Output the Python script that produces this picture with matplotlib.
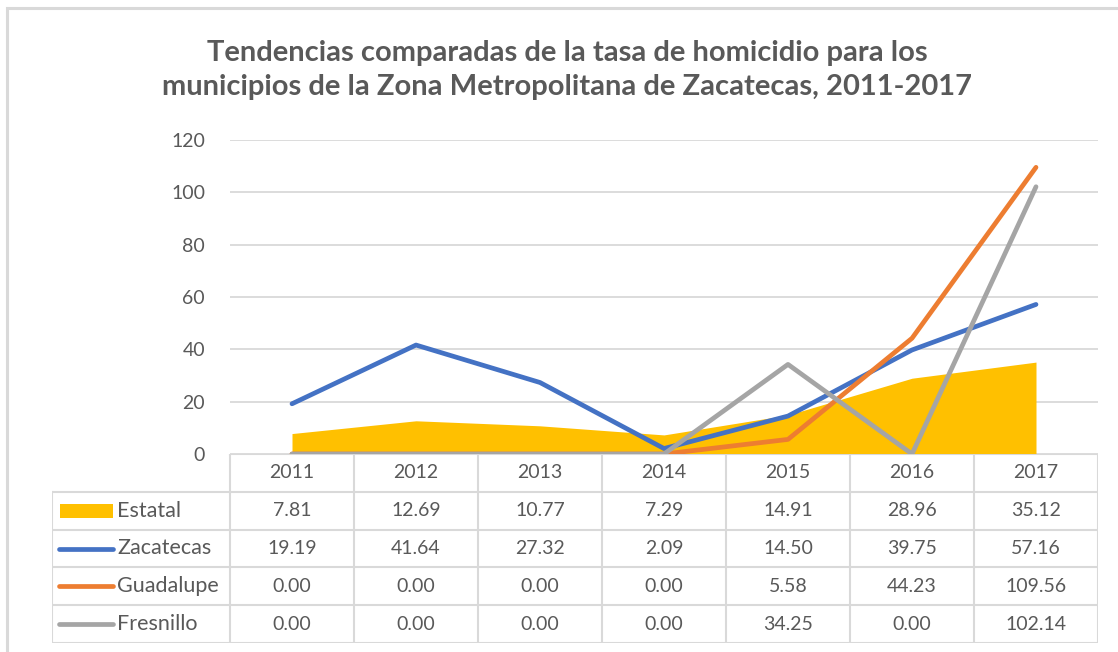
import matplotlib.pyplot as plt
from matplotlib.patches import Rectangle
from matplotlib.lines import Line2D

years = ['2011', '2012', '2013', '2014', '2015', '2016', '2017']
estatal = [7.81, 12.69, 10.77, 7.29, 14.91, 28.96, 35.12]
zacatecas = [19.19, 41.64, 27.32, 2.09, 14.50, 39.75, 57.16]
guadalupe = [0.00, 0.00, 0.00, 0.00, 5.58, 44.23, 109.56]
fresnillo = [0.00, 0.00, 0.00, 0.00, 34.25, 0.00, 102.14]
series_names = ['Estatal', 'Zacatecas', 'Guadalupe', 'Fresnillo']

title = ('Tendencias comparadas de la tasa de homicidio para los\n'
         'municipios de la Zona Metropolitana de Zacatecas, 2011-2017')

c_est = '#FFC000'
c_zac = '#4472C4'
c_gua = '#ED7D31'
c_fre = '#A5A5A5'
grid_c = '#D9D9D9'
txt_c = '#595959'

plt.rcParams['font.family'] = ['Lato', 'DejaVu Sans']

W, H = 1118, 652
fig = plt.figure(figsize=(W / 100, H / 100), dpi=100)

# outer chart border
fig.patches.append(Rectangle((7 / W, -0.01), 1.2, (H - 8) / H + 0.01,
                             transform=fig.transFigure, fill=False,
                             edgecolor=grid_c, lw=2.2))

# main plot area: x 230..1098 px, y 140..454 px
x0, x1 = 230, 1098
y_top, y_zero = 140, 454
ax = fig.add_axes([x0 / W, (H - y_zero) / H, (x1 - x0) / W, (y_zero - y_top) / H])
xs = list(range(len(years)))
ax.set_xlim(-0.5, len(years) - 0.5)
ax.set_ylim(0, 120)
ax.set_yticks(range(0, 121, 20))
ax.yaxis.grid(True, color=grid_c, lw=1.3)
ax.set_axisbelow(True)
for s in ax.spines.values():
    s.set_visible(False)
ax.set_xticks([])
ax.tick_params(axis='y', length=0, pad=18, labelsize=14, labelcolor=txt_c)

ax.fill_between(xs, estatal, 0, color=c_est, lw=0, zorder=3)
ax.plot(xs, zacatecas, color=c_zac, lw=3.4, solid_capstyle='round', zorder=4)
ax.plot(xs, guadalupe, color=c_gua, lw=3.4, solid_capstyle='round', zorder=5)
ax.plot(xs, fresnillo, color=c_fre, lw=3.4, solid_capstyle='round', zorder=6)

fig.text(567 / W, 1 - 70 / H, title, ha='center', va='center', fontsize=21,
         fontweight='bold', color=txt_c, linespacing=1.38)

# data table: x 52..1098 px, y 454..643 px
t_left, t_bot = 52, 643
col_w = (x1 - x0) / len(years)
tab = fig.add_axes([t_left / W, (H - t_bot) / H, (x1 - t_left) / W, (t_bot - y_zero) / H])
tab.set_xlim(-0.5 - (x0 - t_left) / col_w, len(years) - 0.5)
tab.set_ylim(5, 0)
tab.axis('off')
lab_l = tab.get_xlim()[0]
lw_t = 1.5

# horizontal lines
tab.plot([-0.5, len(years) - 0.5], [0, 0], color=grid_c, lw=lw_t)
for r in range(1, 6):
    tab.plot([lab_l, len(years) - 0.5], [r, r], color=grid_c, lw=lw_t)
# vertical lines
for c in range(len(years) + 1):
    tab.plot([c - 0.5, c - 0.5], [0, 5], color=grid_c, lw=lw_t)
tab.plot([lab_l, lab_l], [1, 5], color=grid_c, lw=lw_t)

for i, yr in enumerate(years):
    tab.text(i, 0.5, yr, ha='center', va='center', fontsize=14, color=txt_c)

rows = [estatal, zacatecas, guadalupe, fresnillo]
for r, vals in enumerate(rows):
    for i, v in enumerate(vals):
        tab.text(i, r + 1.5, f'{v:.2f}', ha='center', va='center',
                 fontsize=14, color=txt_c)

# legend keys in the label column
px = 1 / col_w
key_l = lab_l + 8 * px
key_r = lab_l + 61 * px
tab.add_patch(Rectangle((key_l, 1.5 - 0.19), key_r - key_l, 0.38,
                        color=c_est, lw=0))
for r, c in zip([2, 3, 4], [c_zac, c_gua, c_fre]):
    tab.add_line(Line2D([key_l - 1 * px, key_r], [r + 0.5, r + 0.5], color=c,
                        lw=3.4, solid_capstyle='round'))
for r, name in enumerate(series_names):
    tab.text(lab_l + 65 * px, r + 1.5, name, ha='left', va='center',
             fontsize=15.5, color=txt_c)

fig.savefig('out.png', dpi=100)
